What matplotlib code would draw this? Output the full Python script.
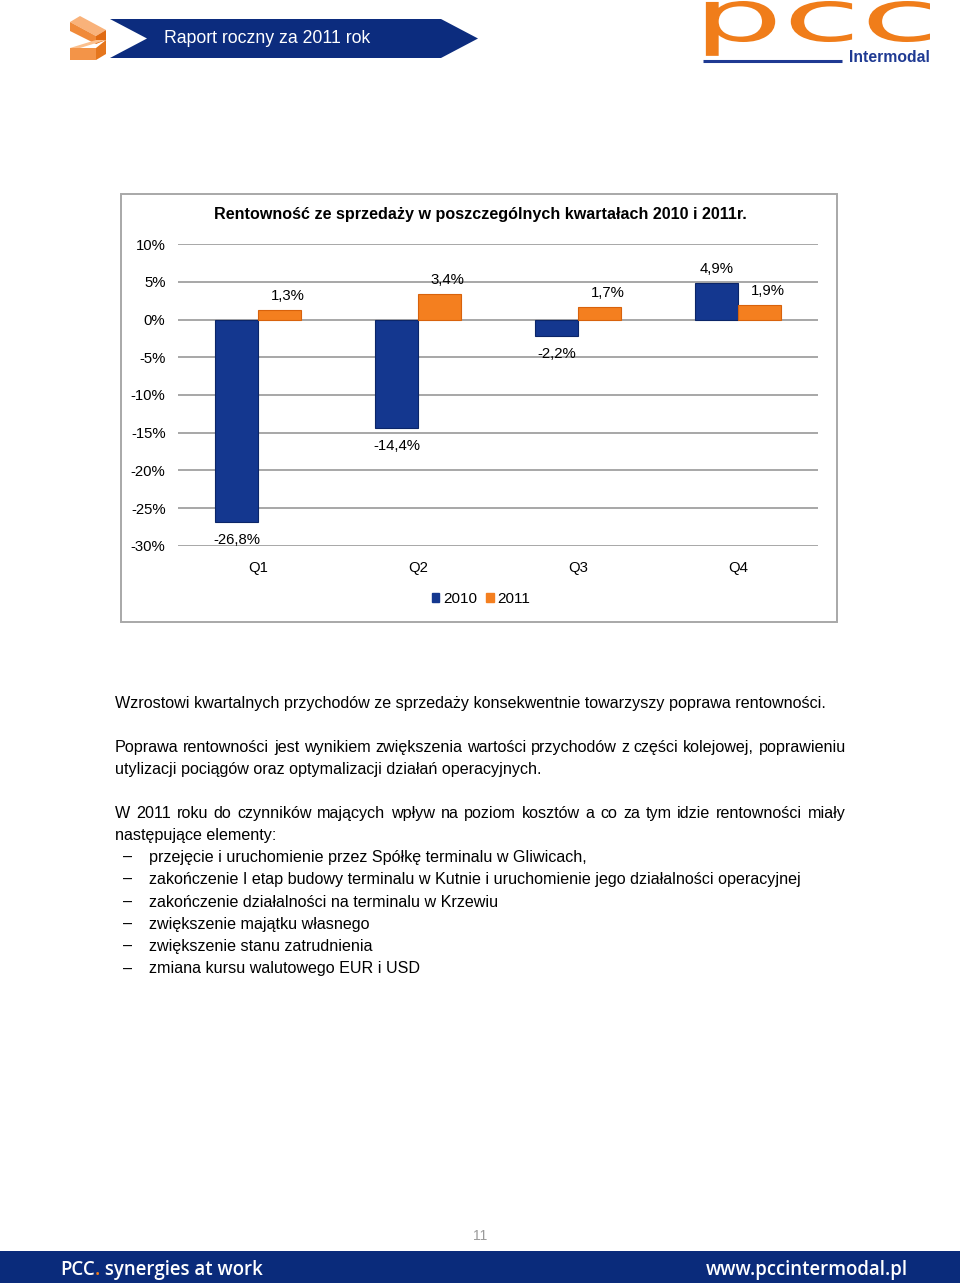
import numpy as np
import matplotlib
matplotlib.use("Agg")
import matplotlib.pyplot as plt
from matplotlib.patches import Polygon, Rectangle, PathPatch, Patch
from matplotlib.textpath import TextPath
from matplotlib.font_manager import FontProperties
from matplotlib.transforms import Affine2D

plt.rcParams['font.family'] = ['Liberation Sans', 'DejaVu Sans']

# data
quarters = ["Q1", "Q2", "Q3", "Q4"]
series_names = ["2010", "2011"]
v2010 = [-26.8, -14.4, -2.2, 4.9]
v2011 = [1.3, 3.4, 1.7, 1.9]
yticks = [10, 5, 0, -5, -10, -15, -20, -25, -30]

chart_title = "Rentowność ze sprzedaży w poszczególnych kwartałach 2010 i 2011r."
header_title = "Raport roczny za 2011 rok"
para1 = "Wzrostowi kwartalnych przychodów ze sprzedaży konsekwentnie towarzyszy poprawa rentowności."
para2 = ["Poprawa rentowności jest wynikiem zwiększenia wartości przychodów z części kolejowej, poprawieniu",
         "utylizacji pociągów oraz optymalizacji działań operacyjnych."]
para3 = ["W 2011 roku do czynników mających wpływ na poziom kosztów a co za tym idzie rentowności miały",
         "następujące elementy:"]
bullets = ["przejęcie i uruchomienie przez Spółkę terminalu w Gliwicach,",
           "zakończenie I etap budowy terminalu w Kutnie i uruchomienie jego działalności operacyjnej",
           "zakończenie działalności na terminalu w Krzewiu",
           "zwiększenie majątku własnego",
           "zwiększenie stanu zatrudnienia",
           "zmiana kursu walutowego EUR i USD"]

W, H = 960, 1283
fig = plt.figure(figsize=(W / 100, H / 100), dpi=100)

# background axes in pixel coordinates
bg = fig.add_axes([0, 0, 1, 1])
bg.set_xlim(0, W)
bg.set_ylim(H, 0)
bg.axis('off')

blue_dark = '#0c2c7e'
orange = '#f07d1a'

# header banner
bg.add_patch(Polygon([(110, 19), (441, 19), (478, 38.5), (441, 58), (110, 58), (147, 38.5)],
                     closed=True, color=blue_dark, lw=0))
bg.text(164, 38.5, header_title, color='white', fontsize=12.7, va='center', ha='left')

# left logo (orange blocks)
bg.add_patch(Polygon([(70, 22), (80, 16), (106, 30), (96, 36)], closed=True, color='#f9b27a', lw=0))
bg.add_patch(Polygon([(70, 22), (96, 36), (96, 44), (70, 31)], closed=True, color='#f08a3a', lw=0))
bg.add_patch(Polygon([(96, 36), (106, 30), (106, 40), (96, 44)], closed=True, color='#e06a12', lw=0))
bg.add_patch(Polygon([(70, 48), (96, 40), (106, 40), (80, 48)], closed=True, color='#fbc08e', lw=0))
bg.add_patch(Polygon([(70, 48), (96, 48), (96, 60), (70, 60)], closed=True, color='#f39448', lw=0))
bg.add_patch(Polygon([(96, 48), (106, 40), (106, 54), (96, 60)], closed=True, color='#e5761d', lw=0))

# right logo "pcc"
tp = TextPath((0, 0), "pcc", size=1, prop=FontProperties(family='DejaVu Sans'))
verts = tp.vertices
x0, x1 = verts[:, 0].min(), verts[:, 0].max()
ytop = verts[:, 1].max()
sx = (930 - 693) / (x1 - x0)
sy = 40 / ytop
tr = Affine2D().translate(-x0, 0).scale(sx, -sy).translate(693, 41) + bg.transData
bg.add_patch(PathPatch(tp, transform=tr, color=orange, lw=0))
bg.plot([703, 842], [61, 61], color='#1f3a93', lw=2.2, solid_capstyle='butt')
bg.text(930, 62, "Intermodal", color='#1f3a93', fontsize=11.3, fontweight='bold',
        ha='right', va='baseline')

# chart frame
bg.add_patch(Rectangle((120.5, 193.5), 716, 428, fill=False, ec='#a8a8a8', lw=1.4))
bg.text(480, 215, chart_title, fontsize=11.6, fontweight='bold', ha='center', va='center')

# chart axes
ax = fig.add_axes([178 / W, 1 - 546 / H, 640 / W, 302 / H])
ax.patch.set_alpha(0)
x = np.arange(len(quarters))
w = 0.27
b1 = ax.bar(x - w / 2, v2010, w, color='#14378f', edgecolor='#0b2568', lw=0.8, zorder=3)
b2 = ax.bar(x + w / 2, v2011, w, color='#f47f1f', edgecolor='#d8620c', lw=0.8, zorder=3)
ax.set_xlim(-0.5, len(quarters) - 0.5)
ax.set_ylim(-30, 10)
ax.set_yticks(yticks)
ax.set_yticklabels([f"{t}%" for t in yticks])
ax.set_xticks(x)
ax.set_xticklabels(quarters)
ax.tick_params(axis='both', length=0, labelsize=10.7)
ax.tick_params(axis='y', pad=9)
ax.tick_params(axis='x', pad=11)
ax.yaxis.grid(True, color='#a0a0a0', lw=1.3)
ax.set_axisbelow(True)
for s in ax.spines.values():
    s.set_visible(False)

def fmt(v):
    return f"{v:.1f}%".replace('.', ',')

for bars, vals in [(b1, v2010), (b2, v2011)]:
    for r, v in zip(bars, vals):
        cx = r.get_x() + r.get_width() / 2
        off = 10 if v >= 0 else -13
        ax.annotate(fmt(v), (cx + (0.05 if bars is b2 else 0), v), xytext=(0, off),
                    textcoords='offset points', ha='center', va='center', fontsize=10.7)

fig.legend(handles=[Patch(color='#14378f'), Patch(color='#f47f1f')], labels=series_names,
           loc='center', bbox_to_anchor=(481 / W, 1 - 599 / H), ncol=2, frameon=False,
           fontsize=11, handlelength=0.5, handleheight=0.5, handletextpad=0.25,
           columnspacing=0.6)

# body text (baseline aligned)
fs = 11.6
bl = 5
renderer = fig.canvas.get_renderer()

def line(xx, y, s):
    return bg.text(xx, y + bl, s, fontsize=fs, va='baseline', ha='left')

def justify(s, y, left=115, right=846):
    words = s.split()
    ts = [line(left, y, wd) for wd in words]
    widths = [t.get_window_extent(renderer).width for t in ts]
    gap = (right - left - sum(widths)) / (len(words) - 1)
    pos = left
    for t, wd in zip(ts, widths):
        t.set_x(pos)
        pos += wd + gap

line(115, 703, para1)
justify(para2[0], 747)
line(115, 769, para2[1])
justify(para3[0], 813)
line(115, 835, para3[1])
for i, b in enumerate(bullets):
    yy = 857 + i * 22.3
    line(123, yy, "–")
    line(149, yy, b)

# page number
bg.text(480, 1236, "11", color='#9a9a9a', fontsize=10, ha='center', va='center')

# footer
bg.add_patch(Rectangle((0, 1251), W, 32, color='#0a2b7b', lw=0))
ff = ['Open Sans', 'DejaVu Sans']
fsf = 13.4
t1 = bg.text(60, 1270, "PCC", color='white', fontsize=fsf, fontweight='semibold', family=ff,
             va='center', ha='left')
w1 = t1.get_window_extent(renderer).width
t2 = bg.text(60 + w1, 1270, ".", color=orange, fontsize=fsf, fontweight='semibold', family=ff,
             va='center', ha='left')
w2 = t2.get_window_extent(renderer).width
bg.text(60 + w1 + w2, 1270, " synergies at work", color='white', fontsize=fsf,
        fontweight='semibold', family=ff, va='center', ha='left')
bg.text(908, 1270, "www.pccintermodal.pl", color='white', fontsize=fsf, fontweight='semibold',
        family=ff, va='center', ha='right')

fig.savefig('out.png', dpi=100)
